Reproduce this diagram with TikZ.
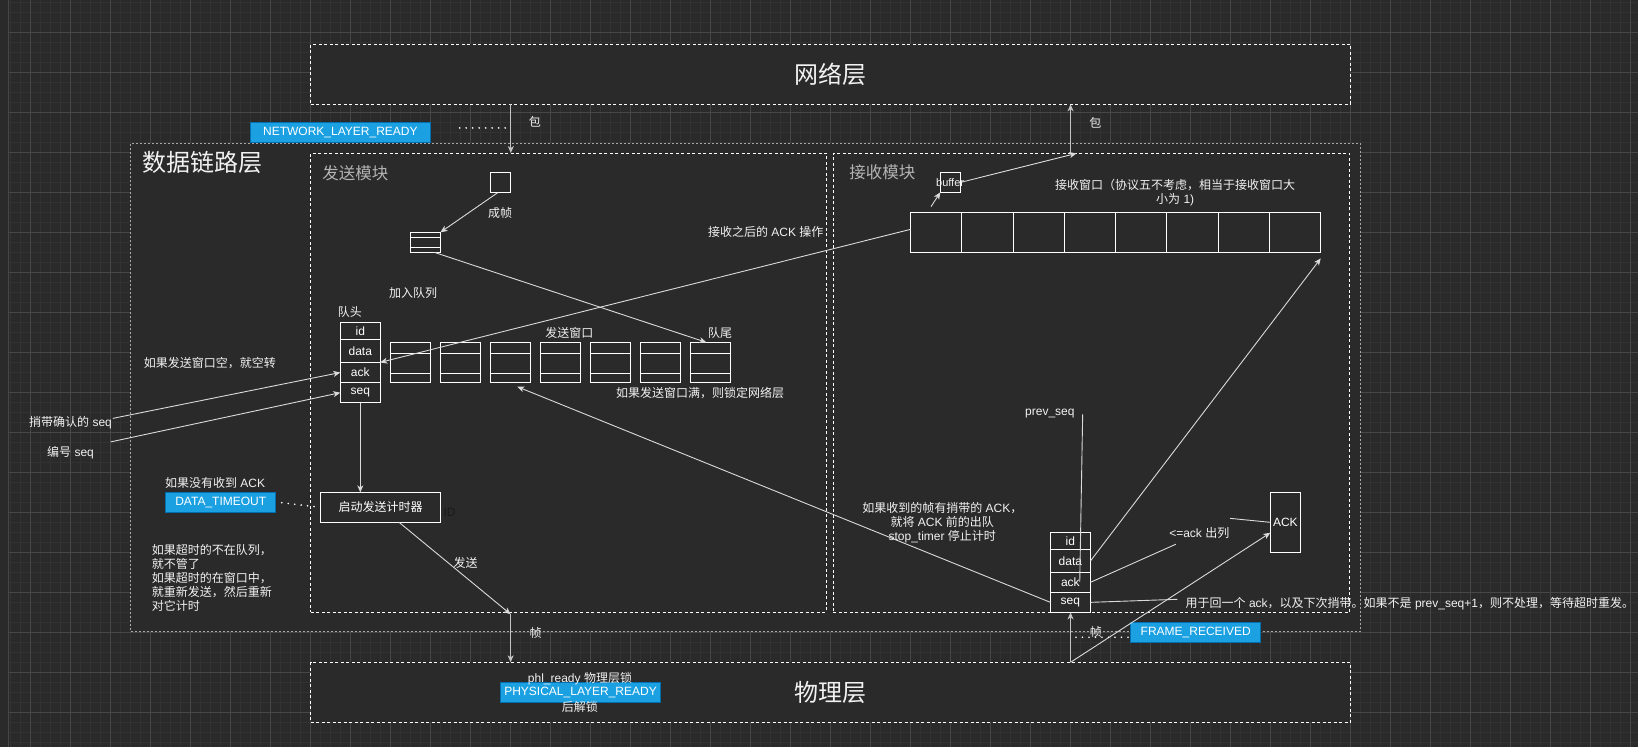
\documentclass[tikz,border=0pt]{standalone}
\usepackage{fontspec}
\setmainfont{Liberation Sans}
\newfontfamily\zh{Noto Sans CJK SC}
\newcommand\Z[1]{{\zh #1}}
\usetikzlibrary{arrows.meta,fit,calc}
\definecolor{bg}{HTML}{2A2A2A}
\definecolor{gminor}{HTML}{323232}
\definecolor{gmajor}{HTML}{474747}
\definecolor{lc}{HTML}{DADADA}
\definecolor{lg}{HTML}{C4C4C4}
\definecolor{txt}{HTML}{F2F2F2}
\definecolor{modt}{HTML}{B3B3B3}
\definecolor{obord}{HTML}{A8A8A8}
\definecolor{bluef}{HTML}{1BA1E2}
\definecolor{blued}{HTML}{006EAF}
\definecolor{darkt}{HTML}{1A1A1A}
\newcommand\mkbox[7]{%
  \path (#3,#4) coordinate (#1-a) (#5,#6) coordinate (#1-b);
  \node[#2, fit=(#1-a)(#1-b)] (#1) {};
  \node[text=white] (#1-t) at (#1.center) {#7};}
\begin{document}
\begin{tikzpicture}[x=1.044643pt,y=-1.044643pt,
  every node/.style={text=txt,inner sep=0pt,outer sep=0pt,font=\fontsize{12}{14}\selectfont},
  layerbox/.style={draw=white,fill=bg,line width=0.9pt,dash pattern=on 3pt off 2.5pt},
  outerbox/.style={draw=obord,fill=bg,line width=0.8pt,dash pattern=on 2pt off 2pt},
  cell/.style={draw=white,fill=bg,line width=1pt},
  flag/.style={draw=blued,fill=bluef,line width=1.2pt},
  conn/.style={draw=lc,line width=0.9pt},
  arr/.style={conn,-{Stealth[length=7pt,width=6pt,inset=2pt]}},
  arrg/.style={draw=lg,line width=1.3pt,-{Stealth[length=7pt,width=6pt,inset=2pt]}},
  dotline/.style={draw=white,line width=1.8pt,line cap=round,dash pattern=on 0pt off 6.5pt},
  titlefont/.style={font=\zh\fontsize{24}{28}\selectfont},
  modlbl/.style={text=modt,font=\zh\fontsize{16.5}{20}\selectfont,anchor=west},
  zhl/.style={font=\zh\fontsize{12}{14}\selectfont}
]
% background and grid
\fill[bg] (0,0) rectangle (1568,715);
\useasboundingbox (0,0) rectangle (1568,715);
\begin{scope}
\clip (8pt,0pt) rectangle (1638pt,-747pt);
\draw[gminor,line width=0.6pt] \foreach \k in {1,...,163} {(\k*10pt,0pt) -- (\k*10pt,-747pt)};
\draw[gminor,line width=0.6pt] \foreach \k in {0,...,74} {(0pt,{-(2+10*\k)*1pt}) -- (1638pt,{-(2+10*\k)*1pt})};
\draw[gmajor,line width=0.8pt] \foreach \k in {0,...,40} {({(30+40*\k)*1pt},0pt) -- ({(30+40*\k)*1pt},-747pt)};
\draw[gmajor,line width=0.8pt] \foreach \k in {0,...,17} {(0pt,{-(32+40*\k)*1pt}) -- (1638pt,{-(32+40*\k)*1pt})};
\draw[gmajor,line width=0.8pt] (8.5pt,0pt) -- (8.5pt,-747pt);
\end{scope}

% layers and modules
\mkbox{outer}{outerbox}{125}{137}{1302}{604}{}
\mkbox{net}{layerbox}{297.4}{42.5}{1292.7}{99.8}{}
\mkbox{phy}{layerbox}{297.4}{634}{1292.7}{691.5}{}
\mkbox{send}{layerbox}{297.5}{146.5}{790.8}{586}{}
\mkbox{recv}{layerbox}{797.7}{146.5}{1292}{586}{}

\node[titlefont] (netT) at (net.center) {网络层};
\node[titlefont] (phyT) at (phy.center) {物理层};
\node[titlefont,anchor=west] (dllT) at (136.8,155.7) {数据链路层};
\node[modlbl] (sendT) at (308.7,165.9) {发送模块};
\node[modlbl] (recvT) at (813,165) {接收模块};

% flags
\mkbox{nlr}{flag}{239.7}{117.4}{412}{136.6}{NETWORK\_LAYER\_READY}
\mkbox{dto}{flag}{158.6}{471.6}{264}{490.8}{DATA\_TIMEOUT}
\mkbox{plr}{flag}{479}{653.5}{632.5}{672.3}{PHYSICAL\_LAYER\_READY}
\mkbox{frr}{flag}{1082.3}{595.8}{1206.9}{614.9}{FRAME\_RECEIVED}

% send module contents
\mkbox{sq}{cell}{469.5}{165}{488.9}{184.5}{}
\mkbox{qi}{cell}{392.5}{222.4}{421.6}{241.6}{}
\draw[white,line width=1pt] (392.5,227.2) -- (421.6,227.2) (392.5,236.5) -- (421.6,236.5);
\foreach \i in {1,...,7}{
  \pgfmathsetmacro\xa{373.7+47.85*(\i-1)}
  \pgfmathsetmacro\xb{\xa+38.3}
  \mkbox{sw\i}{cell}{\xa}{327.7}{\xb}{366}{}
  \draw[white,line width=1pt] (\xa,338.2) -- (\xb,338.2) (\xa,357.7) -- (\xb,357.7);
}
\mkbox{hid}{cell}{325.8}{308.6}{364}{325.2}{id}
\mkbox{hdata}{cell}{325.8}{325.2}{364}{346.9}{data}
\mkbox{hack}{cell}{325.8}{346.9}{364}{366.3}{ack}
\mkbox{hseq}{cell}{325.8}{366.3}{364}{385.5}{seq}
\mkbox{timer}{cell}{306.7}{471.3}{421.9}{500}{\Z{启动发送计时器}}

% receive module contents
\mkbox{buf}{cell}{900.2}{165}{919.7}{184.1}{}
\foreach \i in {1,...,8}{
  \pgfmathsetmacro\xa{871.5+49.1*(\i-1)}
  \pgfmathsetmacro\xb{\xa+49.1}
  \mkbox{rw\i}{cell}{\xa}{203.3}{\xb}{241.6}{}
}
\mkbox{rid}{cell}{1005.5}{509.6}{1043.8}{526.2}{id}
\mkbox{rdata}{cell}{1005.5}{526.2}{1043.8}{547.9}{data}
\mkbox{rack}{cell}{1005.5}{547.9}{1043.8}{567}{ack}
\mkbox{rseq}{cell}{1005.5}{567}{1043.8}{586.2}{seq}
\mkbox{ackb}{cell}{1216}{471.3}{1244.8}{528.7}{ACK}

% free-end coordinates
\coordinate (pkx) at (489,0);
\coordinate (kx) at (1024.8,0);
\coordinate (nd1) at (440,122.5);
\coordinate (nd2) at (484,122.5);
\coordinate (fA) at (108,400.5);
\coordinate (gA) at (106,423);
\coordinate (fr1) at (488.8,588);
\coordinate (bA) at (891.2,197.8);
\coordinate (kB) at (1030.5,146.8);
\coordinate (pvA) at (1036.4,396.6);
\coordinate (pvB) at (1033.6,557);
\coordinate (nB) at (1125.5,521);
\coordinate (oA) at (1177.5,496.2);
\coordinate (rA) at (1030,610);
\coordinate (rB) at (1080,610);
\coordinate (sB) at (1127,573.7);
\coordinate (tB) at (495.2,370.2);

% connectors
\draw[arrg] (net.south -| pkx) -- (send.north -| pkx);
\draw[dotline] (nd1) -- (nd2);
\draw[arr] ([xshift=-3pt]sq.south) -- (qi.north east);
\draw[arr] ([xshift=-6pt]qi.south east) -- ([xshift=-4pt]sw7.north);
\draw[arr] ([yshift=3pt]rw1.west) -- (hdata.south east);
\draw[arr] (fA) -- (hack.west);
\draw[arr] (gA) -- (hseq.west);
\draw[arr] (hseq.south) -- (timer.north -| hseq.south);
\draw[dotline] ([xshift=6pt]dto.east) -- (timer.west);
\draw[arr] ($(timer.south)+(17.7,0)$) -- (fr1);
\draw[arrg] (fr1) -- (phy.north -| fr1);
\draw[arr] (bA) -- (buf.south west);
\draw[arr] (buf.east) -- (kB);
\draw[arrg] (recv.north -| kx) -- (net.south -| kx);
\draw[conn] (pvA) -- (pvB);
\draw[arr] (rdata.east) -- ([yshift=-6pt]rw8.south east);
\draw[conn] (rack.east) -- (nB);
\draw[conn] (oA) -- (ackb.west);
\draw[arr] (phy.north -| kx) -- ($(ackb.west)+(0,10)$);
\draw[arrg] (phy.north -| kx) -- (rseq.south -| kx);
\draw[dotline] (rA) -- (rB);
\draw[conn] (rseq.east) -- (sB);
\draw[arr] (rseq.west) -- (tB);

% labels
\node[zhl] (lbBao1) at (512,117) {包};
\node[zhl] (lbBao2) at (1048.5,117.4) {包};
\node[zhl] (lbCz) at (478.7,203.6) {成帧};
\node[zhl] (lbJr) at (395.5,280.6) {加入队列};
\node[zhl] (lbDt) at (335,299) {队头};
\node[zhl] (lbFs) at (545,318.5) {发送窗口};
\node[zhl] (lbDw) at (689.3,318.5) {队尾};
\node[zhl,anchor=west] (lbFull) at (589.7,376.5) {如果发送窗口满，则锁定网络层};
\node (lbAckop) at (733,222.4) {\Z{接收之后的} ACK \Z{操作}};
\node[zhl,anchor=west] (lbEmpty) at (137.8,347.8) {如果发送窗口空，就空转};
\node (lbPiggy) at (67.5,404.6) {\Z{捎带确认的} seq};
\node (lbSeqno) at (67.5,433.4) {\Z{编号} seq};
\node[anchor=west] (lbNoack) at (158,462) {\Z{如果没有收到} ACK};
\node[text=darkt] (lbId) at (430.4,490.8) {ID};
\node[anchor=west,align=left,font=\zh\fontsize{12}{13.9}\selectfont] (lbTmo) at (145.5,553.2)
  {如果超时的不在队列，\\就不管了\\如果超时的在窗口中，\\就重新发送，然后重新\\对它计时};
\node[zhl] (lbSend) at (445.8,538.7) {发送};
\node[zhl] (lbZhen1) at (512.8,605.6) {帧};
\node[zhl] (lbZhen2) at (1049,604.7) {帧};
\node (lbPhl) at (555.2,649.5) {phl\_ready \Z{物理层锁}};
\node[zhl] (lbUnl) at (555.2,677) {后解锁};
\node[font=\fontsize{11}{13}\selectfont] (lbBuf) at (909.5,175) {buffer};
\node[align=center,font=\fontsize{12}{14.4}\selectfont] (lbRw) at (1125,184.5)
  {\Z{接收窗口（协议五不考虑，相当于接收窗口大}\\\Z{小为} 1)};
\node (lbPrev) at (1005,395.7) {prev\_seq};
\node[align=center,font=\fontsize{12}{13.8}\selectfont] (lbRecvAck) at (902,500.5)
  {\Z{如果收到的帧有捎带的} ACK\Z{，}\\\Z{就将} ACK \Z{前的出队}\\stop\_timer \Z{停止计时}};
\node (lbDeq) at (1148,510.6) {<=ack \Z{出列}};
\node[anchor=west] (lbLong) at (1135,577.6)
  {\Z{用于回一个} ack\Z{，以及下次捎带。如果不是} prev\_seq+1\Z{，则不处理，等待超时重发。}};
\end{tikzpicture}
\end{document}
